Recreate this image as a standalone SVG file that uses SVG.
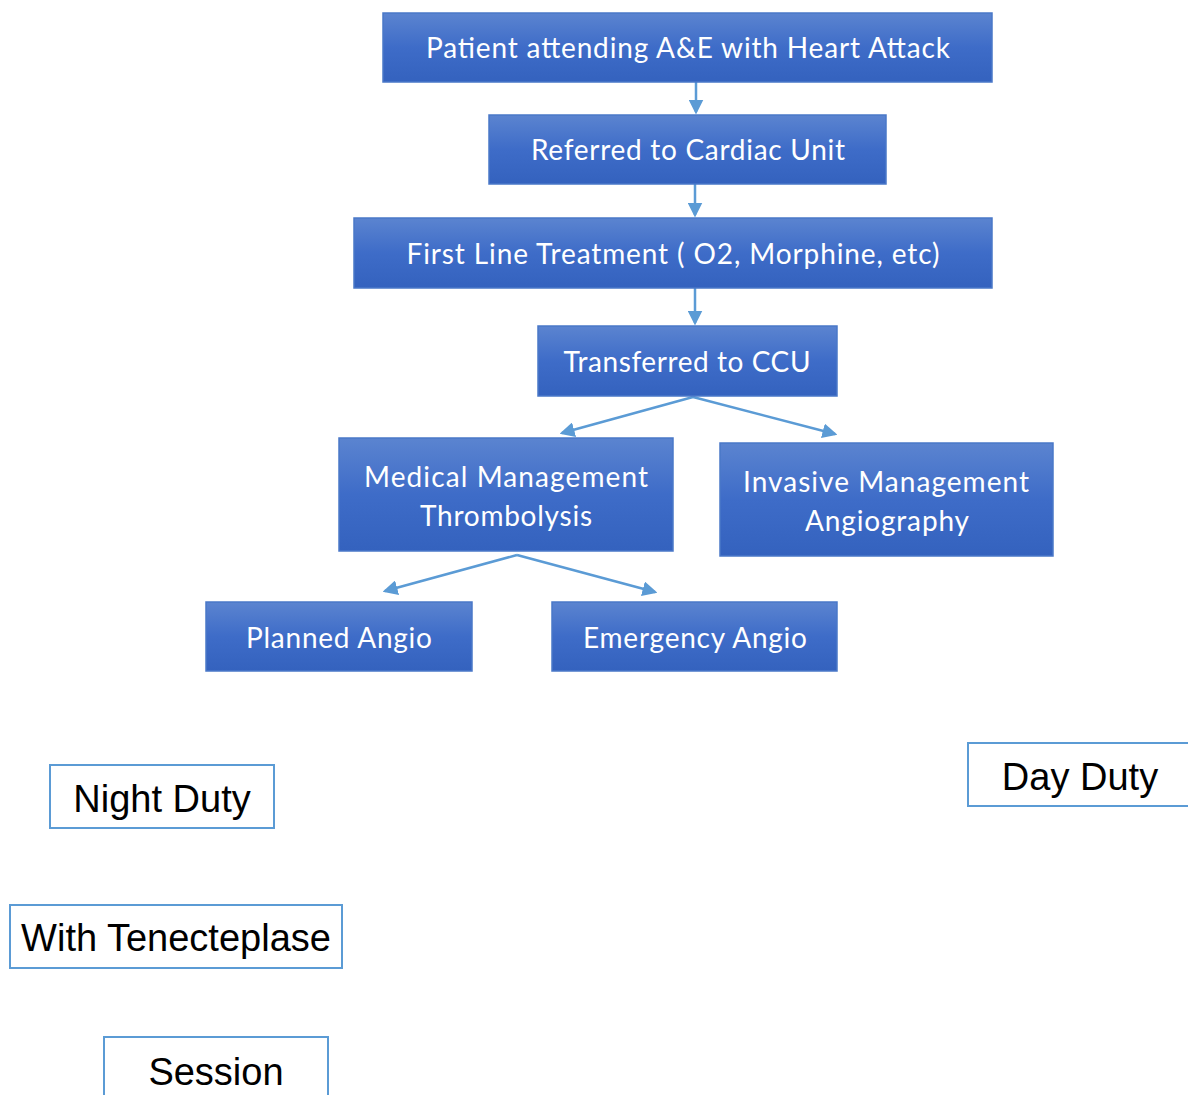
<svg xmlns="http://www.w3.org/2000/svg" width="1188" height="1095" viewBox="0 0 1188 1095">
<style>
.box{fill:url(#g);stroke:#4a78c8;stroke-width:1.5}
.t{font-family:Lato,"Open Sans",sans-serif;font-size:28px;fill:#fff;text-anchor:middle}
.ob{fill:#fff;stroke:#5b9bd5;stroke-width:2}
.ot{font-family:"Liberation Sans",Arial,sans-serif;font-size:38px;fill:#000;text-anchor:middle}
.c{stroke:#5b9bd5;stroke-width:2.5;fill:none;marker-end:url(#a)}
</style>
<defs>
<linearGradient id="g" x1="0" y1="0" x2="0" y2="1">
<stop offset="0" stop-color="#5b84d0"/>
<stop offset="0.5" stop-color="#3e6cc8"/>
<stop offset="1" stop-color="#3462be"/>
</linearGradient>
<marker id="a" markerWidth="6" markerHeight="6" refX="5" refY="3" orient="auto" markerUnits="strokeWidth">
<path d="M0,0 L6,3 L0,6 Z" fill="#5b9bd5"/>
</marker>
</defs>
<g id="connectors">
<line class="c" x1="696" y1="82" x2="696" y2="112"/>
<line class="c" x1="695" y1="184" x2="695" y2="215"/>
<line class="c" x1="695" y1="288" x2="695" y2="323"/>
<line class="c" x1="693" y1="397" x2="562" y2="433"/>
<line class="c" x1="693" y1="397" x2="835" y2="434"/>
<line class="c" x1="517" y1="555" x2="385" y2="591"/>
<line class="c" x1="517" y1="555" x2="655" y2="592"/>
</g>
<g id="n1"><rect class="box" x="383" y="13" width="609" height="69"/><text class="t" x="688" y="58" textLength="524" lengthAdjust="spacing">Patient attending A&amp;E with Heart Attack</text></g>
<g id="n2"><rect class="box" x="489" y="115" width="397" height="69"/><text class="t" x="688" y="160" textLength="314" lengthAdjust="spacing">Referred to Cardiac Unit</text></g>
<g id="n3"><rect class="box" x="354" y="218" width="638" height="70"/><text class="t" x="673" y="264" textLength="533" lengthAdjust="spacing">First Line Treatment ( O2, Morphine, etc)</text></g>
<g id="n4"><rect class="box" x="538" y="326" width="299" height="70"/><text class="t" x="687" y="372" textLength="247" lengthAdjust="spacing">Transferred to CCU</text></g>
<g id="n5"><rect class="box" x="339" y="438" width="334" height="113"/><text class="t" x="506" y="487" textLength="284" lengthAdjust="spacing">Medical Management</text><text class="t" x="506" y="526" textLength="172" lengthAdjust="spacing">Thrombolysis</text></g>
<g id="n6"><rect class="box" x="720" y="443" width="333" height="113"/><text class="t" x="886" y="492" textLength="286" lengthAdjust="spacing">Invasive Management</text><text class="t" x="887" y="531" textLength="164" lengthAdjust="spacing">Angiography</text></g>
<g id="n7"><rect class="box" x="206" y="602" width="266" height="69"/><text class="t" x="339" y="648" textLength="186" lengthAdjust="spacing">Planned Angio</text></g>
<g id="n8"><rect class="box" x="552" y="602" width="285" height="69"/><text class="t" x="695" y="648" textLength="224" lengthAdjust="spacing">Emergency Angio</text></g>
<g id="n9"><rect class="ob" x="50" y="765" width="224" height="63"/><text class="ot" x="162" y="812">Night Duty</text></g>
<g id="n10"><rect class="ob" x="10" y="905" width="332" height="63"/><text class="ot" x="176" y="951">With Tenecteplase</text></g>
<g id="n11"><rect class="ob" x="104" y="1037" width="224" height="70"/><text class="ot" x="216" y="1085">Session</text></g>
<g id="n12"><rect class="ob" x="968" y="743" width="230" height="63"/><text class="ot" x="1080" y="790">Day Duty</text></g>
</svg>
